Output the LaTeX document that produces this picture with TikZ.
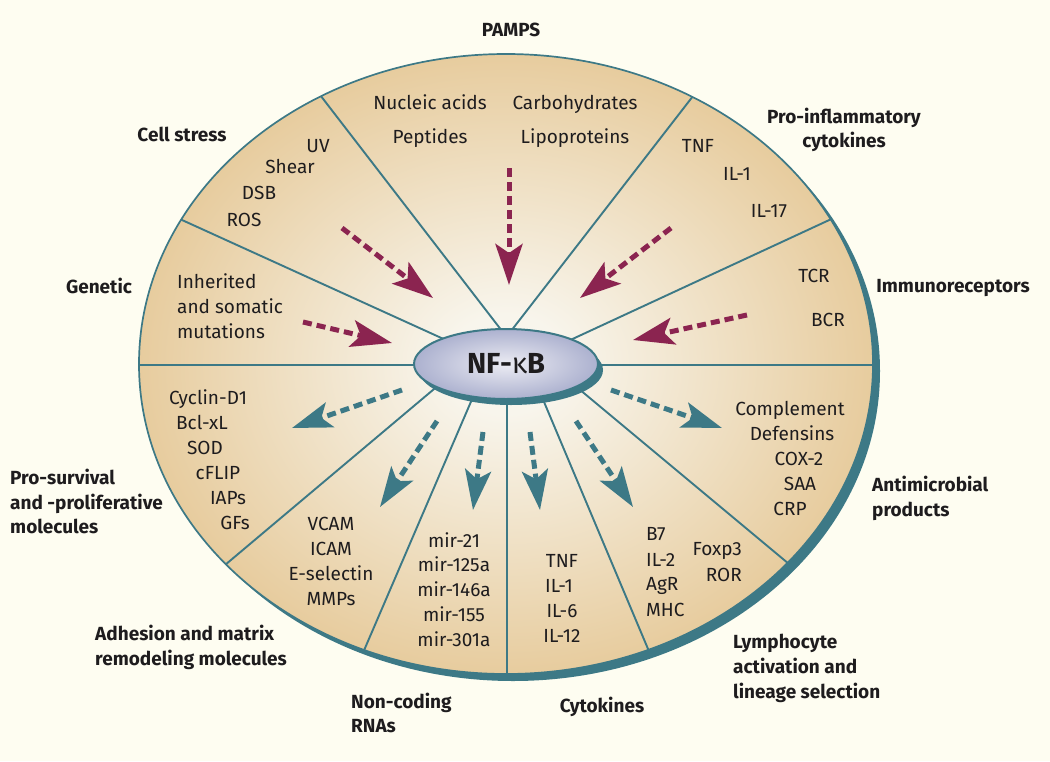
\documentclass[tikz,border=0pt]{standalone}
\usepackage{fontspec}
\setmainfont{Fira Sans}
\usetikzlibrary{arrows.meta,shapes.geometric}
\definecolor{bg}{RGB}{254,253,241}
\definecolor{tealc}{RGB}{61,121,134}
\definecolor{maroonc}{RGB}{139,36,80}
\definecolor{tanout}{RGB}{231,204,158}
\definecolor{tanin}{RGB}{248,245,236}
\definecolor{ink}{RGB}{30,28,30}
\definecolor{lavin}{RGB}{236,236,243}
\definecolor{lavout}{RGB}{172,177,207}
\pgfdeclareradialshading{discshade}{\pgfpoint{0bp}{0bp}}{color(0bp)=(tanin); color(4bp)=(tanin); color(25bp)=(tanout); color(50bp)=(tanout)}
\tikzset{
  txt/.style={inner sep=0pt, text=ink, font=\fontsize{19}{23}\selectfont, anchor=base},
  lbl/.style={inner sep=0pt, text=ink, font=\fontsize{19}{23}\selectfont\bfseries, anchor=base},
  spoke/.style={draw=tealc, line width=1.9pt},
  inarrow/.style={draw=maroonc, line width=5pt, dash pattern=on 9pt off 5pt,
    -{Stealth[length=41pt,width=27pt,inset=9pt]}},
  outarrow/.style={draw=tealc, line width=5pt, dash pattern=on 9pt off 5pt,
    -{Stealth[length=40pt,width=26pt,inset=9pt]}},
}
\begin{document}
\begin{tikzpicture}[x=1pt,y=-1pt]
\useasboundingbox (0,0) rectangle (1050,761);
\fill[bg] (0,0) rectangle (1050,761);
% outer disc
\fill[tealc] (513,371) ellipse [x radius=367pt, y radius=310pt];
\shade[shading=discshade] (506,364) ellipse [x radius=367pt, y radius=310pt];
% spoke coordinates
\coordinate (a1) at (307,78);  \coordinate (a2) at (502,331);
\coordinate (b1) at (707,78);  \coordinate (b2) at (511,331);
\coordinate (c1) at (160,210); \coordinate (c2) at (448,341);
\coordinate (d1) at (853,209); \coordinate (d2) at (566,342);
\coordinate (e1) at (120,365); \coordinate (e2) at (900,365);
\coordinate (f1) at (206,581); \coordinate (f2) at (440,384);
\coordinate (g1) at (353,676); \coordinate (g2) at (476,390);
\coordinate (h1) at (507,700); \coordinate (h2) at (507,390);
\coordinate (i1) at (659,675); \coordinate (i2) at (539,390);
\coordinate (j1) at (807,579); \coordinate (j2) at (573,384);
\begin{scope}
\clip (506,364) ellipse [x radius=367pt, y radius=310pt];
\draw[spoke] (a1) -- (a2);
\draw[spoke] (b1) -- (b2);
\draw[spoke] (c1) -- (c2);
\draw[spoke] (d1) -- (d2);
\draw[spoke] (e1) -- (e2);
\draw[spoke] (f1) -- (f2);
\draw[spoke] (g1) -- (g2);
\draw[spoke] (h1) -- (h2);
\draw[spoke] (i1) -- (i2);
\draw[spoke] (j1) -- (j2);
\end{scope}
\draw[tealc, line width=1.7pt] (506,364) ellipse [x radius=367pt, y radius=310pt];
% arrows in
\coordinate (m1s) at (342,228); \coordinate (m1t) at (433,298);
\coordinate (m2s) at (509,168); \coordinate (m2t) at (509,285);
\coordinate (m3s) at (671,228); \coordinate (m3t) at (580,298);
\coordinate (m4s) at (303,322); \coordinate (m4t) at (392,343);
\coordinate (m5s) at (747,315); \coordinate (m5t) at (633,340);
\draw[inarrow] (m1s) -- (m1t);
\draw[inarrow] (m2s) -- (m2t);
\draw[inarrow] (m3s) -- (m3t);
\draw[inarrow] (m4s) -- (m4t);
\draw[inarrow] (m5s) -- (m5t);
% arrows out
\coordinate (t1s) at (402,390); \coordinate (t1t) at (292,428);
\coordinate (t2s) at (437,421); \coordinate (t2t) at (380,507);
\coordinate (t3s) at (483,432); \coordinate (t3t) at (473,510);
\coordinate (t4s) at (530,432); \coordinate (t4t) at (540,510);
\coordinate (t5s) at (576,421); \coordinate (t5t) at (633,507);
\coordinate (t6s) at (611,390); \coordinate (t6t) at (722,428);
\draw[outarrow] (t1s) -- (t1t);
\draw[outarrow] (t2s) -- (t2t);
\draw[outarrow] (t3s) -- (t3t);
\draw[outarrow] (t4s) -- (t4t);
\draw[outarrow] (t5s) -- (t5t);
\draw[outarrow] (t6s) -- (t6t);
% NF-kB
\node[ellipse, fill=tealc, minimum width=184pt, minimum height=70pt, inner sep=0pt] (nfshadow) at (511,370) {};
\node[ellipse, minimum width=184pt, minimum height=70pt, inner sep=0pt, draw=tealc, line width=2pt,
  inner color=lavin, outer color=lavout, text=ink, font=\fontsize{29}{30}\selectfont\bfseries] (nfkb) at (506,364) {NF-{\mdseries κ}B};
% top
\node[lbl] (pamps) at (511,36) {PAMPS};
\node[txt] (nuc) at (430,109) {Nucleic acids};
\node[txt] (carb) at (575,109) {Carbohydrates};
\node[txt] (pep) at (430,143) {Peptides};
\node[txt] (lipo) at (575,143) {Lipoproteins};
% cell stress
\node[lbl] (cellstress) at (182,141) {Cell stress};
\node[txt] (uv) at (318,152) {UV};
\node[txt] (shear) at (290,173) {Shear};
\node[txt] (dsb) at (259,199) {DSB};
\node[txt] (ros) at (244,226) {ROS};
% genetic
\node[lbl] (genetic) at (99,293) {Genetic};
\node[txt, anchor=base west] (inh1) at (177,288) {Inherited};
\node[txt, anchor=base west] (inh2) at (177,313) {and somatic};
\node[txt, anchor=base west] (inh3) at (177,338) {mutations};
% pro-inflammatory
\node[lbl] (proinf1) at (844,123) {Pro-inflammatory};
\node[lbl] (proinf2) at (844,147) {cytokines};
\node[txt] (tnfa) at (698,152) {TNF};
\node[txt] (ila) at (737,180) {IL-1};
\node[txt] (il17) at (769,217) {IL-17};
% immunoreceptors
\node[lbl] (immuno) at (953,292) {Immunoreceptors};
\node[txt] (tcr) at (814,282) {TCR};
\node[txt] (bcr) at (828,326) {BCR};
% pro-survival
\node[txt] (cyc) at (208,404) {Cyclin-D1};
\node[txt] (bcl) at (202,429) {Bcl-xL};
\node[txt] (sod) at (205,454) {SOD};
\node[txt] (cflip) at (218,479) {cFLIP};
\node[txt] (iaps) at (228,504) {IAPs};
\node[txt] (gfs) at (235,529) {GFs};
\node[lbl, anchor=base west] (ps1) at (10,484) {Pro-survival};
\node[lbl, anchor=base west] (ps2) at (10,509) {and -proliferative};
\node[lbl, anchor=base west] (ps3) at (10,533) {molecules};
% adhesion
\node[txt] (vcam) at (331,530) {VCAM};
\node[txt] (icam) at (331,555) {ICAM};
\node[txt] (esel) at (331,580) {E-selectin};
\node[txt] (mmps) at (331,605) {MMPs};
\node[lbl, anchor=base west] (adh1) at (95,640) {Adhesion and matrix};
\node[lbl, anchor=base west] (adh2) at (95,665) {remodeling molecules};
% non-coding
\node[txt] (mira) at (454,547) {mir-21};
\node[txt] (mirb) at (454,571) {mir-125a};
\node[txt] (mirc) at (454,596) {mir-146a};
\node[txt] (mird) at (454,621) {mir-155};
\node[txt] (mire) at (454,646) {mir-301a};
\node[lbl, anchor=base west] (nc1) at (351,708) {Non-coding};
\node[lbl, anchor=base west] (nc2) at (351,732) {RNAs};
% cytokines
\node[txt] (tnfb) at (562,567) {TNF};
\node[txt] (ilb) at (559,592) {IL-1};
\node[txt] (il6) at (562,617) {IL-6};
\node[txt] (il12) at (562,642) {IL-12};
\node[lbl] (cyto) at (602,712) {Cytokines};
% lymphocyte
\node[txt, anchor=base west] (b7) at (646,540) {B7};
\node[txt, anchor=base west] (il2) at (646,566) {IL-2};
\node[txt, anchor=base west] (agr) at (646,590) {AgR};
\node[txt, anchor=base west] (mhc) at (646,616) {MHC};
\node[txt, anchor=base east] (foxp3) at (742,555) {Foxp3};
\node[txt, anchor=base east] (ror) at (742,581) {ROR};
\node[lbl, anchor=base west] (ly1) at (733,648) {Lymphocyte};
\node[lbl, anchor=base west] (ly2) at (733,673) {activation and};
\node[lbl, anchor=base west] (ly3) at (733,698) {lineage selection};
% antimicrobial
\node[txt] (compl) at (790,415) {Complement};
\node[txt] (defen) at (792,440) {Defensins};
\node[txt] (cox2) at (799,465) {COX-2};
\node[txt] (saa) at (800,490) {SAA};
\node[txt] (crp) at (790,515) {CRP};
\node[lbl, anchor=base west] (am1) at (872,491) {Antimicrobial};
\node[lbl, anchor=base west] (am2) at (872,516) {products};
\end{tikzpicture}
\end{document}
